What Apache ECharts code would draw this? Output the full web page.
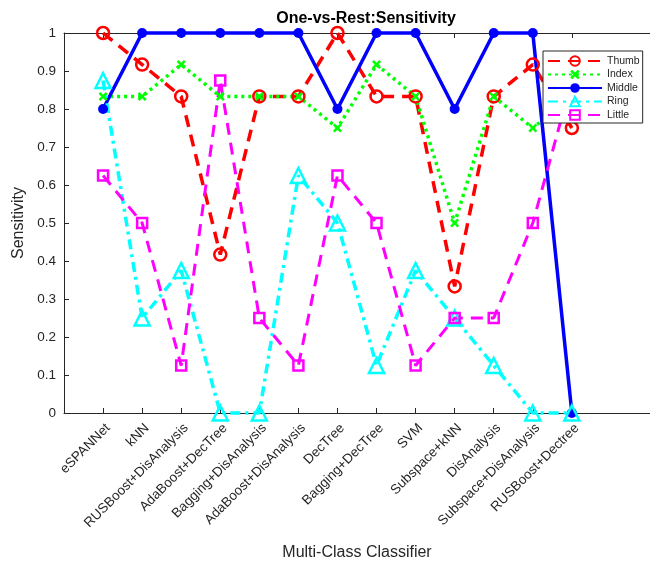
<!DOCTYPE html>
<html>
<head>
<meta charset="utf-8">
<script src="https://cdn.jsdelivr.net/npm/echarts@6/dist/echarts.min.js"></script>
<style>
  html, body { margin: 0; padding: 0; background: #fff; }
  #chart { width: 650px; height: 566px; }
</style>
</head>
<body>
<div id="chart"></div>
<script>
// Classifiers on the x axis (positions 1..13)
const classifiers = [
  'eSPANNet', 'kNN', 'RUSBoost+DisAnalysis', 'AdaBoost+DecTree',
  'Bagging+DisAnalysis', 'AdaBoost+DisAnalysis', 'DecTree', 'Bagging+DecTree',
  'SVM', 'Subspace+kNN', 'DisAnalysis', 'Subspace+DisAnalysis', 'RUSBoost+Dectree'
];

// One-vs-rest sensitivity per finger class
const thumb  = [1.000, 0.917, 0.833, 0.417, 0.833, 0.833, 1.000, 0.833, 0.833, 0.333, 0.833, 0.917, 0.750];
const index  = [0.833, 0.833, 0.917, 0.833, 0.833, 0.833, 0.750, 0.917, 0.833, 0.500, 0.833, 0.750, 0.833];
const middle = [0.800, 1.000, 1.000, 1.000, 1.000, 1.000, 0.800, 1.000, 1.000, 0.800, 1.000, 1.000, 0.000];
const ring   = [0.875, 0.250, 0.375, 0.000, 0.000, 0.625, 0.500, 0.125, 0.375, 0.250, 0.125, 0.000, 0.000];
const little = [0.625, 0.500, 0.125, 0.875, 0.250, 0.125, 0.625, 0.500, 0.125, 0.250, 0.250, 0.500, 0.875];

const yTicks = [0, 0.1, 0.2, 0.3, 0.4, 0.5, 0.6, 0.7, 0.8, 0.9, 1];

const xPositions = classifiers.map((_, i) => i + 1);
const pairs = arr => arr.map((v, i) => [i + 1, v]);

const textColor = '#262626';
const font = 'Liberation Sans, Arial, Helvetica, sans-serif';

// bold "x" glyph used for the Index markers
const crossPath = 'path://M0,2 L2,0 L5,3 L8,0 L10,2 L7,5 L10,8 L8,10 L5,7 L2,10 L0,8 L3,5 Z';

function lineSeries(name, values, color, lineType, width, symbol, size, hollow) {
  return {
    name: name,
    type: 'line',
    data: pairs(values),
    clip: false,
    symbol: symbol,
    symbolSize: size,
    showAllSymbol: true,
    lineStyle: { color: color, width: width, type: lineType },
    itemStyle: hollow
      ? { color: 'rgba(255,255,255,0)', borderColor: color, borderWidth: 2.5 }
      : { color: color, borderColor: color, borderWidth: 0 },
    emphasis: { disabled: true },
    animation: false
  };
}

const chart = echarts.init(document.getElementById('chart'));
chart.setOption({
  backgroundColor: '#fff',
  animation: false,
  title: {
    text: 'One-vs-Rest:Sensitivity',
    left: 361, top: 6, textAlign: 'center',
    textStyle: { fontFamily: font, fontSize: 16, fontWeight: 'bold', color: '#000' }
  },
  legend: {
    orient: 'vertical',
    left: 543, top: 51,
    padding: [4, 3, 2, 4],
    itemWidth: 54, itemHeight: 12, itemGap: 1.5,
    backgroundColor: '#fff',
    borderColor: '#262626', borderWidth: 1,
    textStyle: { fontFamily: font, fontSize: 10.5, color: textColor, lineHeight: 12 },
    data: ['Thumb', 'Index', 'Middle', 'Ring', 'Little']
  },
  grid: { left: 64, right: -10, top: 33, bottom: 153, containLabel: false },
  xAxis: [{
    type: 'value', min: 0, max: 15, interval: 1,
    position: 'bottom',
    name: 'Multi-Class Classifier', nameLocation: 'middle', nameGap: 132,
    nameTextStyle: { fontFamily: font, fontSize: 16, color: textColor },
    splitLine: { show: false },
    axisLine: { show: true, lineStyle: { color: textColor, width: 1 } },
    axisTick: { show: true, inside: true, length: 5, customValues: xPositions, lineStyle: { color: textColor } },
    axisLabel: {
      customValues: xPositions,
      rotate: 45, fontFamily: font, fontSize: 13.5, color: textColor, margin: 8,
      align: 'right', verticalAlign: 'top',
      formatter: v => classifiers[v - 1] || ''
    }
  }, {
    type: 'value', min: 0, max: 15, interval: 1,
    position: 'top',
    splitLine: { show: false },
    axisLine: { show: true, lineStyle: { color: textColor, width: 1 } },
    axisTick: { show: true, inside: true, length: 5, customValues: xPositions, lineStyle: { color: textColor } },
    axisLabel: { show: false }
  }],
  yAxis: {
    type: 'value', min: 0, max: 1, interval: 0.1,
    name: 'Sensitivity', nameLocation: 'middle', nameGap: 27,
    nameTextStyle: { fontFamily: font, fontSize: 16, color: textColor },
    splitLine: { show: false },
    axisLine: { show: true, lineStyle: { color: textColor, width: 1 } },
    axisTick: { show: true, inside: true, length: 5, lineStyle: { color: textColor } },
    axisLabel: {
      customValues: yTicks,
      fontFamily: font, fontSize: 13.5, color: textColor, margin: 8,
      formatter: v => String(Math.round(v * 10) / 10)
    }
  },
  series: [
    lineSeries('Thumb',  thumb,  '#ff0000', [12, 8],       3.5, 'circle',   12, true),
    lineSeries('Index',  index,  '#00ff00', [3, 4],        3.5, crossPath,  9,  false),
    lineSeries('Middle', middle, '#0000ff', 'solid',       3.5, 'circle',   10, false),
    lineSeries('Ring',   ring,   '#00ffff', [10, 5, 3, 5], 3.5, 'triangle', 15, true),
    lineSeries('Little', little, '#ff00ff', [12, 8],       3,   'rect',     10, true)
  ]
});
</script>
</body>
</html>
